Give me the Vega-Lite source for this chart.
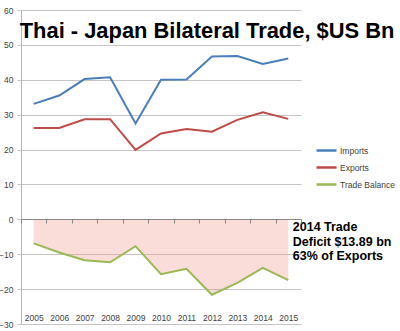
{
  "$schema": "https://vega.github.io/schema/vega-lite/v6.json",
  "width": 280,
  "height": 314,
  "autosize": {"type": "none"},
  "padding": {"left": 21, "top": 10, "right": 99, "bottom": 7},
  "background": "white",
  "config": {
    "view": {"stroke": null},
    "font": "Liberation Sans",
    "axisY": {"labelOverlap": false, "labelFlush": false, "grid": true, "gridColor": "#c4c4c4", "domainColor": "#b4b4b4",
      "tickColor": "#c4c4c4", "tickSize": 4, "labelPadding": 4, "labelFontSize": 8.5, "labelColor": "#404040", "title": null}
  },
  "layer": [
    {
      "data": {"name": "trade", "values": [
        {"year": 2005, "Imports": 33.1, "Exports": 26.2, "Trade Balance": -6.9},
        {"year": 2006, "Imports": 35.5, "Exports": 26.2, "Trade Balance": -9.5},
        {"year": 2007, "Imports": 40.2, "Exports": 28.7, "Trade Balance": -11.7},
        {"year": 2008, "Imports": 40.7, "Exports": 28.7, "Trade Balance": -12.3},
        {"year": 2009, "Imports": 27.5, "Exports": 19.9, "Trade Balance": -7.7},
        {"year": 2010, "Imports": 40.0, "Exports": 24.6, "Trade Balance": -15.7},
        {"year": 2011, "Imports": 40.1, "Exports": 25.9, "Trade Balance": -14.2},
        {"year": 2012, "Imports": 46.7, "Exports": 25.1, "Trade Balance": -21.6},
        {"year": 2013, "Imports": 46.8, "Exports": 28.5, "Trade Balance": -18.2},
        {"year": 2014, "Imports": 44.5, "Exports": 30.7, "Trade Balance": -13.9},
        {"year": 2015, "Imports": 46.1, "Exports": 28.8, "Trade Balance": -17.4}
      ]},
      "mark": {"type": "area", "color": "#f09b90", "opacity": 0.35},
      "encoding": {
        "x": {"field": "year", "type": "ordinal", "scale": {"type": "band", "paddingInner": 0, "paddingOuter": 0},
          "axis": {"orient": "bottom", "offset": -105, "title": null, "labelAngle": 0, "grid": false, "zindex": 1,
            "domainColor": "#868686", "tickColor": "#868686", "tickSize": 4, "tickBand": "extent",
            "labelPadding": 90, "labelFontSize": 8.5, "labelColor": "#404040", "labelOverlap": false}},
        "y": {"field": "Trade Balance", "type": "quantitative", "scale": {"domain": [-30, 60], "nice": false},
          "axis": {"tickCount": 10, "labelOverlap": false}},
        "y2": {"datum": 0}
      }
    },
    {
      "data": {"name": "trade"},
      "transform": [{"fold": ["Imports", "Exports", "Trade Balance"], "as": ["series", "value"]}],
      "mark": {"type": "line", "strokeWidth": 2},
      "encoding": {
        "x": {"field": "year", "type": "ordinal"},
        "y": {"field": "value", "type": "quantitative"},
        "color": {"field": "series", "type": "nominal",
          "scale": {"domain": ["Imports", "Exports", "Trade Balance"], "range": ["#4a7ebb", "#be4b48", "#98b954"]},
          "legend": {"title": null, "orient": "none", "legendX": 294, "legendY": 129, "padding": 0,
            "symbolType": "stroke", "symbolSize": 400, "symbolStrokeWidth": 2.5, "rowPadding": -4,
            "labelOffset": 2, "labelFontSize": 8.5, "labelColor": "#404040"}}
      }
    },
    {
      "data": {"values": [{"label": "Thai - Japan Bilateral Trade, $US Bn"}]},
      "mark": {"type": "text", "align": "left", "baseline": "middle", "fontSize": 21.9, "fontWeight": "bold", "color": "black", "dx": -14},
      "encoding": {
        "x": {"datum": 2005, "type": "ordinal"},
        "y": {"datum": 54.0, "type": "quantitative"},
        "text": {"field": "label"}
      }
    },
    {
      "data": {"values": [{"label": ["2014 Trade", "Deficit $13.89 bn", "63% of Exports"]}]},
      "mark": {"type": "text", "align": "left", "baseline": "top", "fontSize": 12.5, "fontWeight": "bold", "color": "black", "dx": 4.5, "lineHeight": 14.5},
      "encoding": {
        "x": {"datum": 2015, "type": "ordinal"},
        "y": {"datum": -0.5, "type": "quantitative"},
        "text": {"field": "label"}
      }
    }
  ]
}
